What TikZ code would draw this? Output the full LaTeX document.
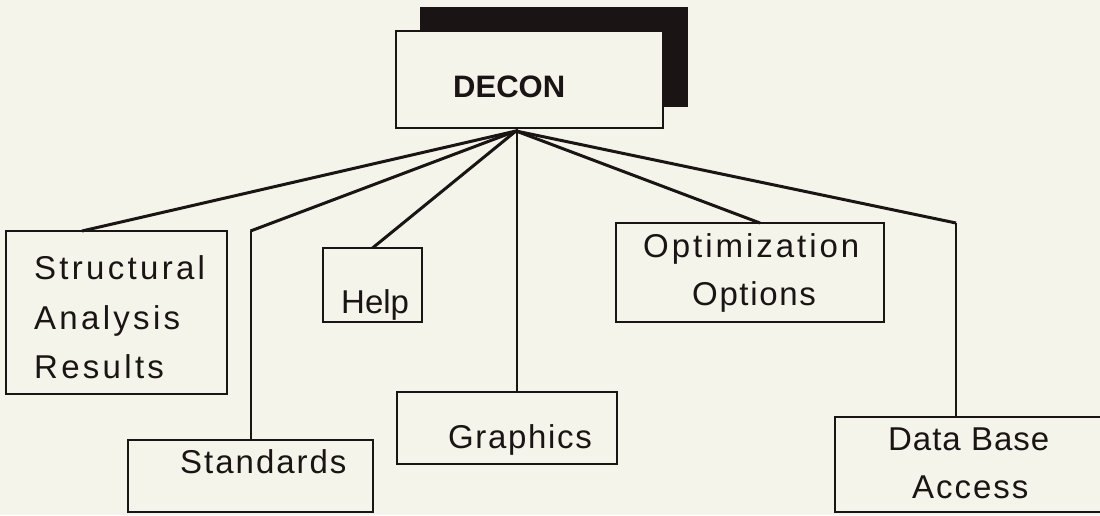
\documentclass[tikz,border=0pt]{standalone}
\usepackage{fontspec}
\setmainfont{Liberation Sans}
\newcommand\trk[1]{\addfontfeatures{LetterSpace=#1}}
\definecolor{paper}{RGB}{245,244,234}
\definecolor{ink}{RGB}{26,20,20}
\begin{document}
\begin{tikzpicture}[x=1pt,y=-1pt,
  box/.style={draw=ink, line width=2.5pt, fill=paper, rectangle, inner sep=0pt, outer sep=0pt},
  lbl/.style={anchor=base west, inner sep=0pt, text=ink, font=\fontsize{33}{40}\selectfont},
  link/.style={draw=ink, line width=3pt, line join=round},
  stem/.style={draw=ink, line width=2pt, line join=round}]
\fill[paper] (0,0) rectangle (1100,515);
\useasboundingbox (0,0) rectangle (1100,515);

% top box with its solid shadow
\node[fill=ink, inner sep=0pt, minimum width=268pt, minimum height=100pt] (shadow) at (554,57) {};
\node[box, minimum width=267pt, minimum height=97pt] (decon) at (529.5,79.5) {};
\node[lbl, font=\fontsize{31}{36}\selectfont\bfseries] (dtxt) at (453,97) {DECON};

% sub-menu boxes
\node[box, minimum width=221pt, minimum height=163pt] (stru) at (116.5,312.5) {};
\node[box, minimum width=245pt, minimum height=72pt] (stan) at (250.5,476) {};
\node[box, minimum width=99pt, minimum height=74pt] (help) at (372.5,285) {};
\node[box, minimum width=220pt, minimum height=72pt] (graph) at (507,428) {};
\node[box, minimum width=268pt, minimum height=99pt] (opt) at (750,272.5) {};
\node[box, minimum width=280pt, minimum height=95pt] (data) at (975,464.5) {};

% labels
\node[lbl] (t1) at (34,279) {\trk{10}Structural};
\node[lbl] (t2) at (34,329) {\trk{10}Analysis};
\node[lbl] (t3) at (34,378) {\trk{10}Results};
\node[lbl] (t4) at (180,473) {\trk{6}Standards};
\node[lbl] (t5) at (341,313) {Help};
\node[lbl] (t6) at (448,448) {\trk{5}Graphics};
\node[lbl] (t7) at (643,257) {\trk{9}Optimization};
\node[lbl] (t8) at (692,305) {\trk{5}Options};
\node[lbl] (t9) at (888,450) {\trk{3}Data Base};
\node[lbl] (t10) at (912,498) {\trk{6}Access};

% connectors fanning out from below the top box
\coordinate (hub) at (516,131);
\draw[link] (hub) -- ([xshift=-34.5pt]stru.north);
\draw[link] (hub) -- (stan.north |- stru.north);
\draw[stem] (stan.north |- stru.north) -- (stan.north);
\draw[link] (hub) -- (help.north);
\draw[stem] ([xshift=10pt]graph.north |- decon.south) -- ([xshift=10pt]graph.north);
\draw[link] (hub) -- ([xshift=10pt]opt.north);
\draw[link] (hub) -- ([xshift=-19pt]data.north |- opt.north);
\draw[stem] ([xshift=-19pt]data.north |- opt.north) -- ([xshift=-19pt]data.north);
\end{tikzpicture}
\end{document}
